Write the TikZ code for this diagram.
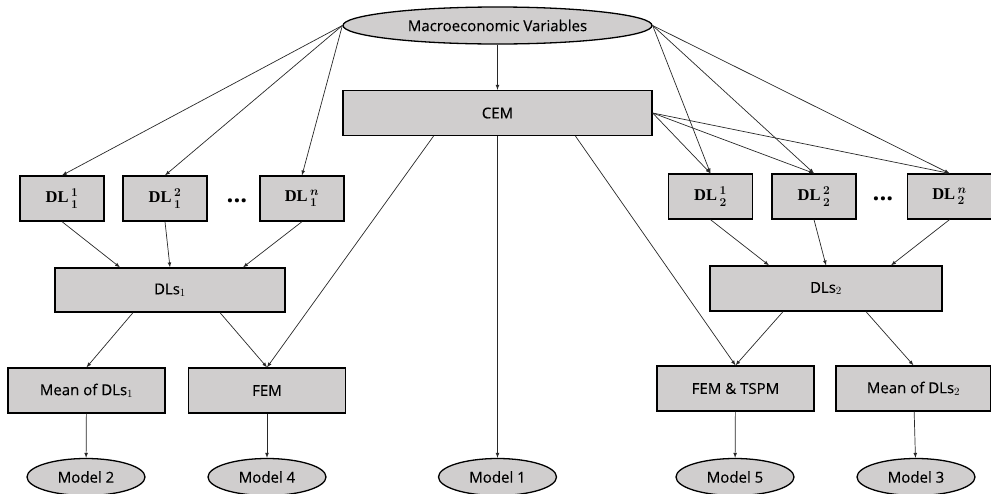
\documentclass[tikz,border=0pt]{standalone}
\usepackage[no-math]{fontspec}
\setmainfont{Open Sans}[UprightFeatures={FakeBold=0.35}]
\newfontfamily\dlfont{Liberation Serif}
\usetikzlibrary{shapes.geometric,calc}
\definecolor{gris}{RGB}{208,206,206}
\definecolor{trait}{RGB}{40,40,40}
\newcommand{\dl}[2]{{\fontsize{16.5}{18}\selectfont\dlfont\bfseries DL}\,{\fontsize{16.5}{18}\selectfont\boldmath$^{#1}_{#2}$}}
\begin{document}
\begin{tikzpicture}[x=1pt, y=-1pt, font=\fontsize{15}{18}\selectfont]
			\tikzset{boite/.style={rectangle, draw=black, fill=gris, line width=1.3pt, inner sep=0pt, minimum width=157pt, minimum height=45pt}, petite/.style={boite, minimum width=84pt}, ovale/.style={ellipse, draw=black, fill=gris, line width=1.3pt, inner sep=0pt, minimum width=118pt, minimum height=37pt}, fleche/.style={>=latex, ->, draw=trait, line width=0.7pt}, points/.style={font=\fontsize{24}{24}\selectfont\bfseries}};

			\useasboundingbox (0,0) rectangle (991,493);

			\node[ovale, minimum width=309pt] (macro) at (497.5,25.5) {Macroeconomic Variables};
			\node[boite, minimum width=309pt] (cem) at (497.5,113) {CEM};

			\node[petite] (dl11) at (  62,198.5) {\dl{1}{1}};
			\node[petite] (dl12) at ( 165,198.5) {\dl{2}{1}};
			\node[points] (pts1) at ( 237,201) {...};
			\node[petite] (dl1n) at ( 302,198.5) {\dl{n}{1}};
			\node[boite, minimum width=230pt, minimum height=44pt] (dls1) at (170,290) {DLs$_1$};

			\node[petite] (dl21) at (710.5,196.5) {\dl{1}{2}};
			\node[petite] (dl22) at (  814,196.5) {\dl{2}{2}};
			\node[points] (pts2) at (  883,199) {...};
			\node[petite] (dl2n) at (949.5,196.5) {\dl{n}{2}};
			\node[boite, minimum width=232pt] (dls2) at (826,288.5) {DLs$_2$};

			\node[boite] (moy1)    at ( 86.5,390.5) {Mean of DLs$_1$};
			\node[boite] (fem)     at (  267,390.5) {FEM};
			\node[boite] (femtspm) at (735.5,388.5) {FEM \& TSPM};
			\node[boite, minimum width=155pt] (moy2) at (913.5,388.5) {Mean of DLs$_2$};

			\node[ovale] (model2) at (   86,477) {Model 2};
			\node[ovale] (model4) at (  267,477) {Model 4};
			\node[ovale] (model1) at (497.5,477) {Model 1};
			\node[ovale] (model5) at (  735,477) {Model 5};
			\node[ovale] (model3) at (  916,477) {Model 3};

			\draw[fleche] (macro) -- (cem);
			\foreach \d in {dl11, dl12, dl1n} \draw[fleche] (macro.west) -- (\d.north);
			\foreach \d in {dl21, dl22, dl2n} {
				\draw[fleche] (macro.east) -- (\d.north);
				\draw[fleche] (cem.east) -- (\d.north);
			}

			\draw[fleche] (dl11.south) -- ($(dls1.north)+(-50,0)$);
			\draw[fleche] (dl12.south) -- (dls1.north);
			\draw[fleche] (dl1n.south) -- ($(dls1.north)+(73,0)$);
			\draw[fleche] (dl21.south) -- ($(dls2.north)+(-57,0)$);
			\draw[fleche] (dl22.south) -- (dls2.north);
			\draw[fleche] (dl2n.south) -- ($(dls2.north)+(65,0)$);

			\draw[fleche] ($(dls1.south)+(-37,0)$) -- (moy1.north);
			\draw[fleche] ($(dls1.south)+(50,0)$) -- (fem.north);
			\draw[fleche] ($(cem.south)+(-64,0)$) -- (fem.north);
			\draw[fleche] (cem) -- (model1);
			\draw[fleche] ($(cem.south)+(78,0)$) -- (femtspm.north);
			\draw[fleche] ($(dls2.south)+(-43,0)$) -- (femtspm.north);
			\draw[fleche] ($(dls2.south)+(40,0)$) -- (moy2.north);

			\draw[fleche] (moy1) -- (model2);
			\draw[fleche] (fem) -- (model4);
			\draw[fleche] (femtspm) -- (model5);
			\draw[fleche] (moy2) -- (model3);
		\end{tikzpicture}
\end{document}
